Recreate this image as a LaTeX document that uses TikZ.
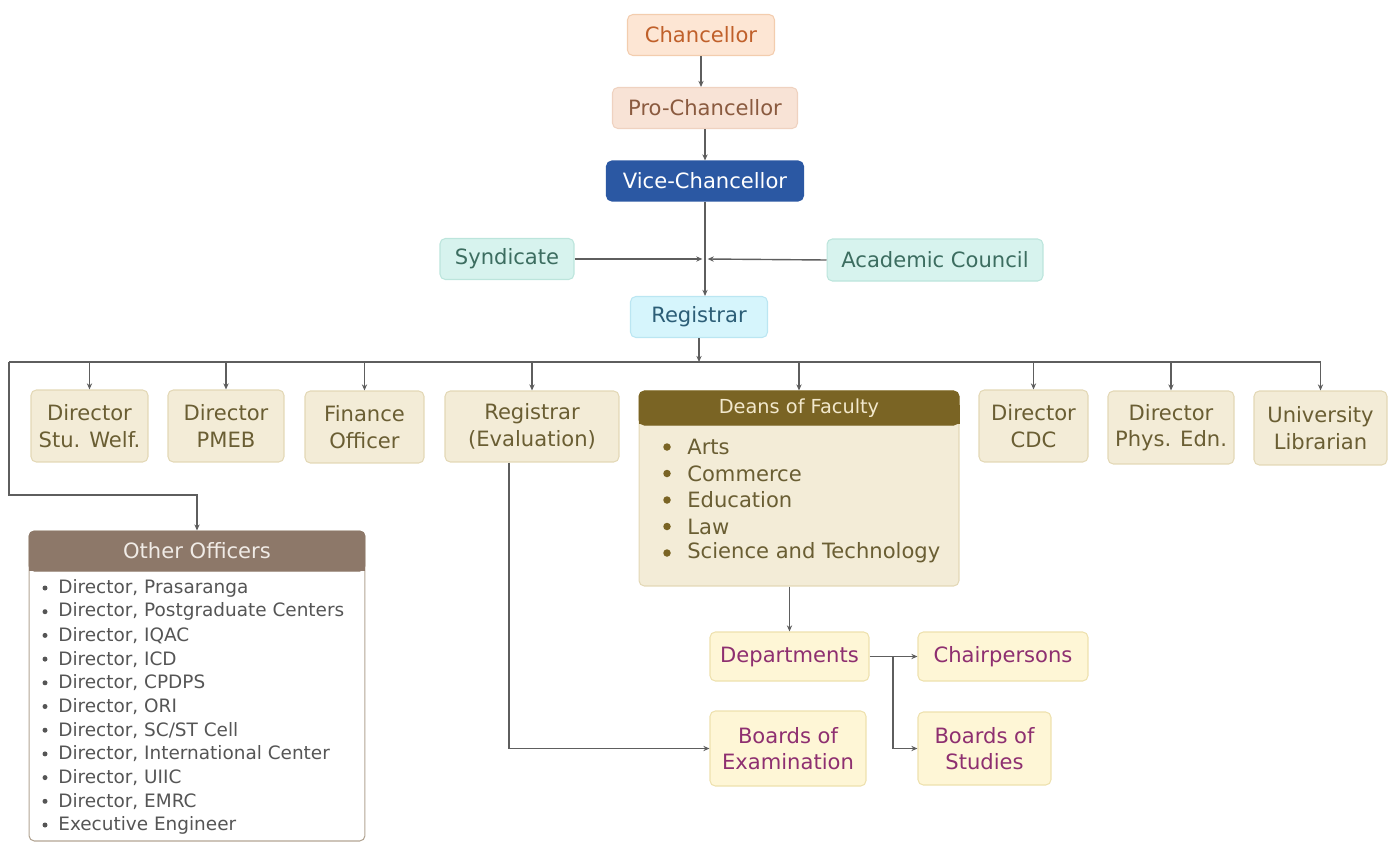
\documentclass[tikz,border=0pt]{standalone}
\usepackage{fontspec}
\setmainfont{DejaVu Sans}
\usepackage{xcolor}
\usetikzlibrary{arrows.meta}

\definecolor{chanfill}{HTML}{FDE6D4}
\definecolor{chanline}{HTML}{F3CDAE}
\definecolor{chantext}{HTML}{C0602A}
\definecolor{profill}{HTML}{F8E3D6}
\definecolor{proline}{HTML}{EFD2C0}
\definecolor{protext}{HTML}{8A5A3F}
\definecolor{vcfill}{HTML}{2B58A3}
\definecolor{councilfill}{HTML}{D7F3EE}
\definecolor{councilline}{HTML}{BCE5DC}
\definecolor{counciltext}{HTML}{3C6D60}
\definecolor{regfill}{HTML}{D6F5FC}
\definecolor{regline}{HTML}{BBE6F2}
\definecolor{regtext}{HTML}{2C5E77}
\definecolor{dirfill}{HTML}{F3ECD7}
\definecolor{dirline}{HTML}{E3D8B6}
\definecolor{dirtext}{HTML}{6A5E33}
\definecolor{deanhead}{HTML}{7A6424}
\definecolor{deanheadtext}{HTML}{F2E8CC}
\definecolor{offhead}{HTML}{8D7869}
\definecolor{offheadtext}{HTML}{F0EBE6}
\definecolor{offline}{HTML}{B3A594}
\definecolor{offtext}{HTML}{555555}
\definecolor{deptfill}{HTML}{FEF6D6}
\definecolor{deptline}{HTML}{EEE1AE}
\definecolor{depttext}{HTML}{8E2F70}
\definecolor{linegray}{HTML}{5E5E5E}

\tikzset{
    orgbox/.style={rounded corners=3pt, align=center, inner sep=0pt, line width=0.6pt,
        font=\fontsize{12}{15}\selectfont},
    chanbox/.style={orgbox, fill=chanfill, draw=chanline, text=chantext},
    probox/.style={orgbox, fill=profill, draw=proline, text=protext},
    vcbox/.style={orgbox, fill=vcfill, draw=vcfill, text=white},
    councilbox/.style={orgbox, fill=councilfill, draw=councilline, text=counciltext},
    regbox/.style={orgbox, fill=regfill, draw=regline, text=regtext},
    dirbox/.style={orgbox, fill=dirfill, draw=dirline, text=dirtext},
    deptbox/.style={orgbox, fill=deptfill, draw=deptline, text=depttext},
    conn/.style={draw=linegray, line width=0.8pt, -{Stealth[length=3.5pt,width=3pt]}},
    line/.style={draw=linegray, line width=0.8pt},
}

\begin{document}
\begin{tikzpicture}[x=0.02cm, y=-0.02cm]
    \useasboundingbox (0,0) rectangle (1390,842);

    % Top of the chain
    \node[chanbox, minimum width=2.94cm, minimum height=0.82cm] (chan) at (701,35) {Chancellor};
    \node[probox, minimum width=3.70cm, minimum height=0.82cm] (pro) at (705,108) {Pro-Chancellor};
    \node[vcbox, minimum width=3.94cm, minimum height=0.80cm] (vc) at (705,181) {Vice-Chancellor};
    \node[councilbox, minimum width=2.68cm, minimum height=0.82cm] (synd) at (507,259) {Syndicate};
    \node[councilbox, minimum width=4.32cm, minimum height=0.84cm] (ac) at (935,260) {Academic Council};
    \node[regbox, minimum width=2.74cm, minimum height=0.82cm] (reg) at (699,317) {Registrar};

    \draw[conn] (chan.south) -- (chan.south |- pro.north);
    \draw[conn] (pro.south) -- (pro.south |- vc.north);
    \draw[conn] (vc.south) -- (vc.south |- reg.north);
    \coordinate (hub) at (vc.south |- synd.east);
    \draw[conn] (synd.east) -- ([xshift=-1.5pt]hub);
    \draw[conn] (ac.west) -- ([xshift=1.5pt]hub);

    % Officers under the registrar
    \node[dirbox, minimum width=2.34cm, minimum height=1.44cm] (dsw) at (89.5,426) {Director\\Stu. Welf.};
    \node[dirbox, minimum width=2.32cm, minimum height=1.44cm] (dpm) at (226,426) {Director\\PMEB};
    \node[dirbox, minimum width=2.38cm, minimum height=1.44cm] (fin) at (364.5,427) {Finance\\Officer};
    \node[dirbox, minimum width=3.48cm, minimum height=1.42cm] (rege) at (532,426.5) {Registrar\\(Evaluation)};
    \node[dirbox, minimum width=2.18cm, minimum height=1.44cm] (cdc) at (1033.5,426) {Director\\CDC};
    \node[dirbox, minimum width=2.52cm, minimum height=1.46cm] (dpe) at (1171,427.5) {Director\\Phys. Edn.};
    \node[dirbox, minimum width=2.66cm, minimum height=1.48cm] (lib) at (1320.5,428) {University\\Librarian};

    % Deans of Faculty
    \node[dirbox, minimum width=6.40cm, minimum height=3.90cm] (deans) at (799,488.5) {};
    \fill[deanhead] ([yshift=-0.68cm]deans.north west) rectangle ([yshift=-0.30cm]deans.north east);
    \node[orgbox, fill=deanhead, draw=deanhead, text=deanheadtext, font=\fontsize{11}{13}\selectfont,
        minimum width=6.40cm, minimum height=0.68cm, anchor=north] (deanstitle) at (deans.north) {Deans of Faculty};
    \foreach \fac [count=\i] in {Arts, Commerce, Education, Law, Science and Technology} {
        \fill[deanhead] (667,{420.5+26.5*\i}) circle (0.075cm);
        \node[anchor=west, text=dirtext, inner sep=0pt, font=\fontsize{12}{14}\selectfont] (fac\i) at (687,{420.5+26.5*\i}) {\fac};
    }

    % Other Officers
    \node[orgbox, fill=white, draw=offline, minimum width=6.72cm, minimum height=6.20cm] (off) at (197,686) {};
    \fill[offhead] ([yshift=-0.80cm]off.north west) rectangle ([yshift=-0.30cm]off.north east);
    \node[orgbox, fill=offhead, draw=offhead, text=offheadtext, minimum width=6.72cm, minimum height=0.80cm,
        anchor=north] (offtitle) at (off.north) {Other Officers};
    \foreach \who [count=\i] in {Director{,} Prasaranga, Director{,} Postgraduate Centers, Director{,} IQAC,
        Director{,} ICD, Director{,} CPDPS, Director{,} ORI, Director{,} SC/ST Cell,
        Director{,} International Center, Director{,} UIIC, Director{,} EMRC, Executive Engineer} {
        \fill[offtext] (45,{564.3+23.7*\i}) circle (0.05cm);
        \node[anchor=west, text=offtext, inner sep=0pt, font=\fontsize{10.5}{12}\selectfont] (who\i) at (58,{564.3+23.7*\i}) {\who};
    }

    % Departments and boards
    \node[deptbox, minimum width=3.18cm, minimum height=0.98cm] (dept) at (789.5,656.5) {Departments};
    \node[deptbox, minimum width=3.40cm, minimum height=0.98cm] (chair) at (1003,656.5) {Chairpersons};
    \node[deptbox, minimum width=3.12cm, minimum height=1.50cm] (boe) at (788,748.5) {Boards of\\Examination};
    \node[deptbox, minimum width=2.66cm, minimum height=1.46cm] (bos) at (984.5,748.5) {Boards of\\Studies};

    % Bus from the registrar
    \coordinate (bus) at (700,362);
    \coordinate (busl) at (9,362);
    \coordinate (elbow) at (9,495);
    \draw[conn] (reg.south) -- (reg.south |- bus);
    \draw[line] (busl) -- (lib.north |- bus);
    \foreach \n in {dsw, dpm, fin, rege, deans, cdc, dpe, lib} {
        \draw[conn] (\n.north |- bus) -- (\n.north);
    }
    \draw[conn] (busl) -- (elbow) -| (off.north);

    \coordinate (evx) at (509,0);
    \draw[conn] (rege.south -| evx) |- (boe.west);
    \draw[conn] (dept.north |- deans.south) -- (dept.north);
    \draw[conn] (dept.east) -- (chair.west);
    \coordinate (br) at (893,656.5);
    \draw[conn] (br) |- (bos.west);
\end{tikzpicture}
\end{document}
